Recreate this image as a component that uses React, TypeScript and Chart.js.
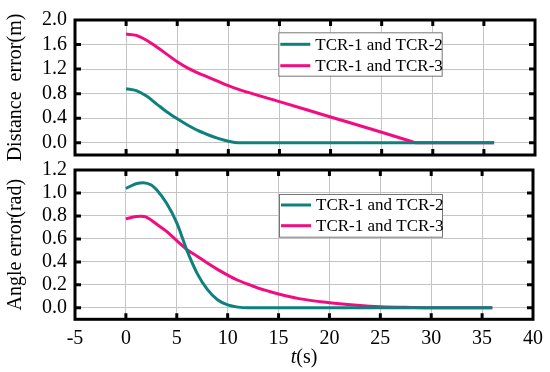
import React, { useEffect, useRef } from 'react';
import { Chart, registerables } from 'chart.js';

Chart.register(...registerables);

// ---- data ----
const xTickValues = [-5, 0, 5, 10, 15, 20, 25, 30, 35, 40];
const distanceTicks = [0, 0.4, 0.8, 1.2, 1.6, 2.0];
const angleTicks = [0, 0.2, 0.4, 0.6, 0.8, 1.0, 1.2];
const seriesLabels = ['TCR-1 and TCR-2', 'TCR-1 and TCR-3'];

const distTime12 = [0, 1, 2, 3, 4, 5, 6, 7, 8, 9, 10, 11, 36];
const distErr12 = [0.88, 0.85, 0.76, 0.63, 0.5, 0.39, 0.29, 0.2, 0.13, 0.07, 0.025, 0, 0];

const distTime13 = [0, 1, 2, 3, 4, 5, 6, 7, 8, 9, 10, 11, 15, 20, 25, 28.0, 28.3, 28.6, 36];
const distErr13 = [1.77, 1.75, 1.67, 1.56, 1.44, 1.32, 1.22, 1.14, 1.07, 1.0, 0.93, 0.87, 0.67, 0.42, 0.17, 0.015, 0, 0, 0];

const angTime12 = [0, 1, 1.7, 2.5, 3, 4, 5, 6, 7, 8, 9, 10, 11, 12, 36];
const angErr12 = [1.04, 1.08, 1.09, 1.07, 1.03, 0.91, 0.74, 0.5, 0.3, 0.16, 0.07, 0.025, 0.006, 0, 0];

const angTime13 = [0, 1, 1.5, 2, 3, 4, 5, 6, 7, 8, 9, 10, 11, 12, 13, 14, 15, 17, 20, 23, 25, 28, 30, 36];
const angErr13 = [0.775, 0.795, 0.797, 0.79, 0.73, 0.665, 0.585, 0.507, 0.45, 0.39, 0.335, 0.285, 0.24, 0.205, 0.172, 0.145, 0.12, 0.08, 0.045, 0.02, 0.01, 0.003, 0, 0];

// ---- style ----
const TEAL = '#0f817d';
const PINK = '#f20c80';
const FONT = '"Liberation Serif", "Times New Roman", serif';

const toPoints = (xs: number[], ys: number[]) => xs.map((x, i) => ({ x, y: ys[i] }));

const framePlugin = {
  id: 'frame',
  afterDatasetsDraw(chart: any, _args: any, opts: any) {
    const { ctx, chartArea: a, scales } = chart;
    ctx.save();
    ctx.strokeStyle = '#000';
    ctx.lineWidth = 3;
    const L = 6;
    ctx.beginPath();
    for (const v of xTickValues) {
      const px = scales.x.getPixelForValue(v);
      if (px <= a.left + 2 || px >= a.right - 2) continue;
      ctx.moveTo(px, a.top);
      ctx.lineTo(px, a.top + L);
      ctx.moveTo(px, a.bottom);
      ctx.lineTo(px, a.bottom - L);
    }
    for (const v of opts.yTicks) {
      const py = scales.y.getPixelForValue(v);
      if (py <= a.top + 2 || py >= a.bottom - 2) continue;
      ctx.moveTo(a.left, py);
      ctx.lineTo(a.left + L, py);
      ctx.moveTo(a.right, py);
      ctx.lineTo(a.right - L, py);
    }
    ctx.stroke();
    ctx.strokeRect(a.left, a.top, a.right - a.left, a.bottom - a.top);

    // legend box
    const lg = opts.legend;
    const bx = a.left + lg.dx;
    const by = a.top + lg.dy;
    ctx.fillStyle = '#fff';
    ctx.fillRect(bx, by, lg.w, lg.h);
    ctx.lineWidth = 1;
    ctx.strokeStyle = '#777';
    ctx.strokeRect(bx + 0.5, by + 0.5, lg.w, lg.h);
    const colors = [TEAL, PINK];
    ctx.font = `17px ${FONT}`;
    ctx.textBaseline = 'middle';
    ctx.textAlign = 'left';
    seriesLabels.forEach((label, i) => {
      const ry = by + lg.rows[i];
      ctx.strokeStyle = colors[i];
      ctx.lineWidth = 3;
      ctx.beginPath();
      ctx.moveTo(bx + 2, ry);
      ctx.lineTo(bx + 32, ry);
      ctx.stroke();
      ctx.fillStyle = '#000';
      ctx.fillText(label, bx + 37, ry + 1);
    });

    if (opts.xTitle) {
      ctx.fillStyle = '#000';
      ctx.textBaseline = 'middle';
      const cx = (a.left + a.right) / 2;
      const ty = a.bottom + opts.xTitle.dy;
      ctx.font = `italic 20px ${FONT}`;
      const w1 = ctx.measureText('t').width;
      ctx.font = `20px ${FONT}`;
      const w2 = ctx.measureText('(s)').width;
      const sx = cx - (w1 + w2) / 2;
      ctx.font = `italic 20px ${FONT}`;
      ctx.fillText('t', sx, ty);
      ctx.font = `20px ${FONT}`;
      ctx.fillText('(s)', sx + w1, ty);
    }
    ctx.restore();
  },
};

function makeConfig(kind: 'top' | 'bottom'): any {
  const isTop = kind === 'top';
  const yTicks = isTop ? distanceTicks : angleTicks;
  const d12 = isTop ? toPoints(distTime12, distErr12) : toPoints(angTime12, angErr12);
  const d13 = isTop ? toPoints(distTime13, distErr13) : toPoints(angTime13, angErr13);
  return {
    type: 'line',
    data: {
      datasets: [
        { label: seriesLabels[0], data: d12, borderColor: TEAL, borderWidth: 3, pointRadius: 0, cubicInterpolationMode: 'monotone', fill: false },
        { label: seriesLabels[1], data: d13, borderColor: PINK, borderWidth: 3, pointRadius: 0, cubicInterpolationMode: 'monotone', fill: false },
      ],
    },
    options: {
      animation: false,
      responsive: false,
      maintainAspectRatio: false,
      layout: { padding: isTop ? { left: 0, right: 15, top: 15, bottom: 11.5 } : { left: 0, right: 15, top: 20, bottom: 0 } },
      plugins: {
        legend: { display: false },
        tooltip: { enabled: false },
        frame: {
          yTicks,
          legend: isTop
            ? { dx: 203.3, dy: 12.3, w: 163.4, h: 43.4, rows: [12, 33.4] }
            : { dx: 204, dy: 24, w: 163, h: 42.7, rows: [11, 31.7] },
          xTitle: isTop ? null : { dy: 38 },
        },
      },
      scales: {
        x: {
          type: 'linear',
          min: -5,
          max: 40,
          afterBuildTicks: (s: any) => { s.ticks = xTickValues.map((v) => ({ value: v })); },
          afterFit: (s: any) => { s.height = isTop ? 0 : 52.7; },
          grid: { color: '#c4c4c4', lineWidth: 1, drawTicks: false },
          border: { display: false },
          ticks: {
            display: !isTop,
            autoSkip: false,
            maxRotation: 0,
            padding: 7,
            color: '#000',
            font: { family: FONT, size: 20 },
            callback: (v: any) => String(v),
          },
        },
        y: {
          type: 'linear',
          min: isTop ? -0.2 : -0.1,
          max: isTop ? 2.0 : 1.2,
          afterBuildTicks: (s: any) => { s.ticks = yTicks.map((v) => ({ value: v })); },
          afterFit: (s: any) => { s.width = 75; },
          grid: { color: '#c4c4c4', lineWidth: 1, drawTicks: false },
          border: { display: false },
          ticks: {
            autoSkip: false,
            padding: 8,
            color: '#000',
            font: { family: FONT, size: 20 },
            callback: (v: any) => Number(v).toFixed(1),
          },
          title: {
            display: true,
            text: isTop ? 'Distance  error(m)' : 'Angle error(rad)',
            color: '#000',
            font: { family: FONT, size: 20 },
            padding: { top: 4, bottom: 0 },
          },
        },
      },
    },
    plugins: [framePlugin],
  };
}

function Panel({ kind, top, height }: { kind: 'top' | 'bottom'; top: number; height: number }) {
  const ref = useRef<HTMLCanvasElement | null>(null);
  useEffect(() => {
    if (!ref.current) return;
    const chart = new Chart(ref.current, makeConfig(kind));
    return () => chart.destroy();
  }, [kind]);
  return (
    <canvas
      ref={ref}
      width={550}
      height={height}
      style={{ position: 'absolute', left: 0, top, width: 550, height }}
    />
  );
}

export default function App() {
  return (
    <div style={{ position: 'fixed', left: 0, top: 0, width: 550, height: 372, background: '#fff' }}>
      <Panel kind="top" top={0} height={175} />
      <Panel kind="bottom" top={150} height={222} />
    </div>
  );
}
